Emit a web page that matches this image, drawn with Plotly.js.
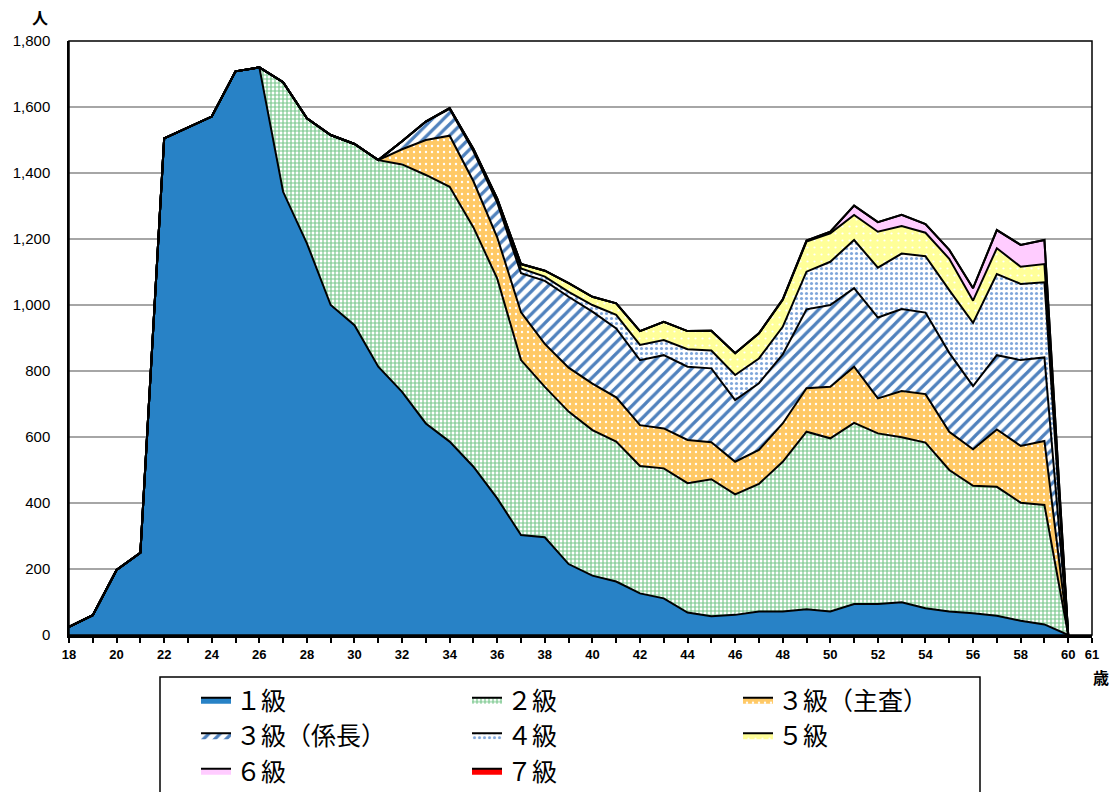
<!DOCTYPE html>
<html>
<head>
<meta charset="utf-8">
<script src="https://cdn.plot.ly/plotly-3.0.1.min.js"></script>
<style>
html,body{margin:0;padding:0;background:#fff;}
#chart{width:1117px;height:792px;}
</style>
</head>
<body>
<div id="chart"></div>
<script>
// ---- data ----
const ages = [18,19,20,21,22,23,24,25,26,27,28,29,30,31,32,33,34,35,36,37,38,39,40,41,42,43,44,45,46,47,48,49,50,51,52,53,54,55,56,57,58,59,60];

const seriesNames = ['１級','２級','３級（主査）','３級（係長）','４級','５級','６級','７級'];

const kyu1 = [25,60,197,249,1505,1538,1571,1708,1720,1343,1187,1000,939,813,737,641,586,510,414,303,296,215,180,162,126,111,68,57,61,71,71,78,71,94,94,99,81,71,66,58,43,32,0];
const kyu2 = [0,0,0,0,0,0,0,0,0,332,379,515,549,626,689,753,772,725,666,530,456,462,441,424,386,394,392,415,365,387,454,538,525,549,517,500,502,429,386,391,358,362,0];
const kyu3shusa = [0,0,0,0,0,0,0,0,0,0,0,0,0,0,46,106,155,140,125,145,130,133,141,134,124,121,131,112,99,103,116,132,156,170,106,140,147,116,111,174,172,194,0];
const kyu3kakaricho = [0,0,0,0,0,0,0,0,0,0,0,0,0,0,24,56,81,91,105,118,191,215,218,209,197,222,222,224,187,202,209,239,248,238,245,249,247,239,191,225,260,253,0];
const kyu4 = [0,0,0,0,0,0,0,0,0,0,0,0,0,0,0,0,2,4,8,15,13,15,20,41,46,46,53,54,76,75,84,114,131,146,151,168,171,190,192,246,231,228,0];
const kyu5 = [0,0,0,0,0,0,0,0,0,0,0,0,0,0,0,0,1,3,4,13,18,26,25,35,42,55,55,60,66,76,81,91,86,76,109,83,71,95,67,78,52,55,0];
const kyu6 = [0,0,0,0,0,0,0,0,0,0,0,0,0,0,0,0,0,0,0,0,0,0,0,0,0,0,0,0,0,0,2,3,5,28,29,34,26,27,38,55,66,73,0];
const kyu7 = [0,0,0,0,0,0,0,0,0,0,0,0,0,0,0,0,0,0,0,0,0,0,0,0,0,0,0,0,0,0,0,0,0,0,0,0,0,0,0,0,0,0,0];

const tickVals = [18,19,20,21,22,23,24,25,26,27,28,29,30,31,32,33,34,35,36,37,38,39,40,41,42,43,44,45,46,47,48,49,50,51,52,53,54,55,56,57,58,59,60,61];
const tickText = ['18','','20','','22','','24','','26','','28','','30','','32','','34','','36','','38','','40','','42','','44','','46','','48','','50','','52','','54','','56','','58','','60','61'];

// ---- styles ----
const fills = [
  {fillcolor:'#2882C6'},
  {fillcolor:'#FFFFFF', fillpattern:{shape:'+', fgcolor:'#78C78B', bgcolor:'#FFFFFF', size:4, solidity:0.5}},
  {fillcolor:'#FFC966', fillpattern:{shape:'.', fgcolor:'#FFFFFF', bgcolor:'#FFC966', size:6, solidity:0.12}},
  {fillcolor:'#FFFFFF', fillpattern:{shape:'/', fgcolor:'#4F81BD', bgcolor:'#FFFFFF', size:8, solidity:0.4}},
  {fillcolor:'#FFFFFF', fillpattern:{shape:'.', fgcolor:'#7FA6DB', bgcolor:'#FFFFFF', size:5, solidity:0.3}},
  {fillcolor:'#FFFF99', fillpattern:{shape:'.', fgcolor:'#FFFFFF', bgcolor:'#FFFF99', size:7, solidity:0.08}},
  {fillcolor:'#FFCCFF'},
  {fillcolor:'#FF0000'}
];
const values = [kyu1,kyu2,kyu3shusa,kyu3kakaricho,kyu4,kyu5,kyu6,kyu7];

const JP = '"Liberation Sans", Arial, "Noto Sans CJK JP", sans-serif';
const JPL = '"Noto Sans CJK JP", "Liberation Sans", sans-serif';

const traces = values.map((v,i)=>Object.assign({
  type:'scatter',
  mode:'lines',
  x: ages,
  y: v,
  name: seriesNames[i],
  stackgroup:'one',
  line:{color:'#000000', width:2},
  hoverinfo:'x+y+name'
}, fills[i]));

const W = 1117, H = 792;
const L = 69, R = 25, T = 41, B = 157;
const pw = W - L - R, ph = H - T - B;
const px = x => (x - L) / pw;
const py = y => (H - B - y) / ph;

const layout = {
  width: W, height: H,
  margin:{l:L, r:R, t:T, b:B, pad:0, autoexpand:false},
  paper_bgcolor:'#FFFFFF',
  plot_bgcolor:'#FFFFFF',
  font:{family:JP, color:'#000000'},
  showlegend:true,
  legend:{
    orientation:'h',
    x: px(196), y: py(677), xanchor:'left', yanchor:'top',
    entrywidth: 226, entrywidthmode:'pixels',
    font:{family:JPL, size:25, color:'#000000'},
    bgcolor:'rgba(0,0,0,0)',
    borderwidth:0,
    traceorder:'normal',
    itemclick:false, itemdoubleclick:false
  },
  xaxis:{
    range:[18,61],
    tickmode:'array',
    tickvals: tickVals,
    ticktext: tickText,
    ticks:'outside', ticklen:5, tickwidth:1.5, tickcolor:'#000000',
    tickfont:{family:JP, size:13, color:'#000000', weight:'bold'},
    showgrid:false,
    showline:true, linecolor:'#000000', linewidth:3,
    zeroline:false,
    fixedrange:true
  },
  yaxis:{
    range:[0,1800],
    dtick:200, tick0:0,
    tickformat:',d',
    ticks:'',
    ticklabelstandoff:14,
    tickfont:{family:JP, size:15, color:'#000000'},
    showgrid:true, gridcolor:'#A6A6A6', gridwidth:1.5,
    showline:true, linecolor:'#000000', linewidth:1.5,
    zeroline:false,
    fixedrange:true
  },
  shapes:[
    {type:'rect', xref:'paper', yref:'paper', x0:0, x1:1, y0:0, y1:1,
     line:{color:'#000000', width:1.5}, fillcolor:'rgba(0,0,0,0)', layer:'above'},
    {type:'rect', xref:'paper', yref:'paper', x0:px(160), x1:px(980), y0:py(677), y1:py(805),
     line:{color:'#000000', width:1.5}, fillcolor:'rgba(0,0,0,0)'}
  ],
  annotations:[
    {text:'人', xref:'paper', yref:'paper', x:px(40), y:py(18), showarrow:false,
     xanchor:'center', yanchor:'middle', font:{family:JP, size:16, color:'#000000', weight:'bold'}},
    {text:'歳', xref:'paper', yref:'paper', x:px(1101), y:py(678), showarrow:false,
     xanchor:'center', yanchor:'middle', font:{family:JP, size:16, color:'#000000', weight:'bold'}}
  ]
};

Plotly.newPlot('chart', traces, layout, {displayModeBar:false, responsive:false});
</script>
</body>
</html>
